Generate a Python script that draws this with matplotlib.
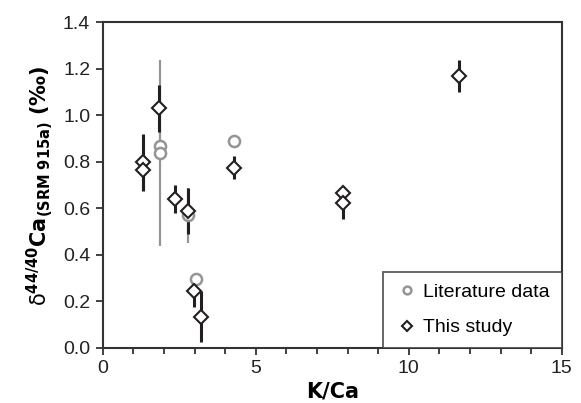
import matplotlib.pyplot as plt

plt.rcParams['font.family'] = ['Liberation Sans', 'DejaVu Sans']
plt.rcParams['mathtext.fontset'] = 'dejavusans'

# literature data (grey circles)
lit_x = [1.86, 1.86, 2.78, 3.04, 4.30]
lit_y = [0.87, 0.84, 0.57, 0.295, 0.89]
lit_err = [0.0, 0.40, 0.12, 0.0, 0.0]

# this study (black diamonds)
our_x = [1.33, 1.33, 1.85, 2.36, 2.78, 2.99, 3.21, 4.30, 7.86, 7.86, 11.65]
our_y = [0.80, 0.767, 1.03, 0.64, 0.588, 0.245, 0.134, 0.775, 0.665, 0.625, 1.17]
our_err = [0.12, 0.09, 0.10, 0.06, 0.10, 0.07, 0.11, 0.05, 0.03, 0.07, 0.07]

grey = '#959595'
dark = '#231f20'

fig = plt.figure(figsize=(5.81, 4.03), dpi=100)
ax = fig.add_axes([0.1768, 0.1365, 0.79, 0.808])

ax.errorbar(lit_x, lit_y, yerr=lit_err, fmt='none', ecolor=grey, elinewidth=1.6, capsize=0, zorder=1)
ax.errorbar(our_x, our_y, yerr=our_err, fmt='none', ecolor=dark, elinewidth=2.2, capsize=0, zorder=2)
ax.plot(lit_x, lit_y, 'o', ms=8, mfc='white', mec=grey, mew=1.8, ls='none',
        label='Literature data', zorder=3)
ax.plot(our_x, our_y, 'D', ms=6.8, mfc='white', mec=dark, mew=1.5, ls='none',
        label='This study', zorder=4)

ax.set_xlim(0, 15)
ax.set_ylim(0, 1.4)
ax.set_xticks([0, 5, 10, 15])
ax.set_xticks(range(16), minor=True)
ax.set_yticks([0, 0.2, 0.4, 0.6, 0.8, 1.0, 1.2, 1.4])
ax.set_yticklabels(['0.0', '0.2', '0.4', '0.6', '0.8', '1.0', '1.2', '1.4'])
ax.tick_params(direction='out', length=5, width=1.3, labelsize=14, colors='#333333',
               labelcolor='#222222', pad=4)
ax.tick_params(which='minor', direction='out', length=4, width=1.3, colors='#333333')
for s in ax.spines.values():
    s.set_linewidth(1.5)
    s.set_color('#333333')

ax.set_xlabel('K/Ca', fontsize=15, fontweight='bold', family='DejaVu Sans', labelpad=3)
ax.set_ylabel(r'$\mathrm{δ}^{\mathbf{44/40}}\mathbf{Ca}_{\mathbf{(SRM\ 915a)}}\ \mathbf{(‰)}$',
              fontsize=15, labelpad=6)

leg = ax.legend(loc='lower right', frameon=True, fancybox=False, fontsize=14,
                borderpad=0.6, labelspacing=0.9, handletextpad=0.2, handlelength=1.3,
                borderaxespad=0, markerscale=0.7)
leg.get_frame().set_edgecolor('#333333')
leg.get_frame().set_linewidth(1.3)

plt.savefig('out.png', dpi=100)
